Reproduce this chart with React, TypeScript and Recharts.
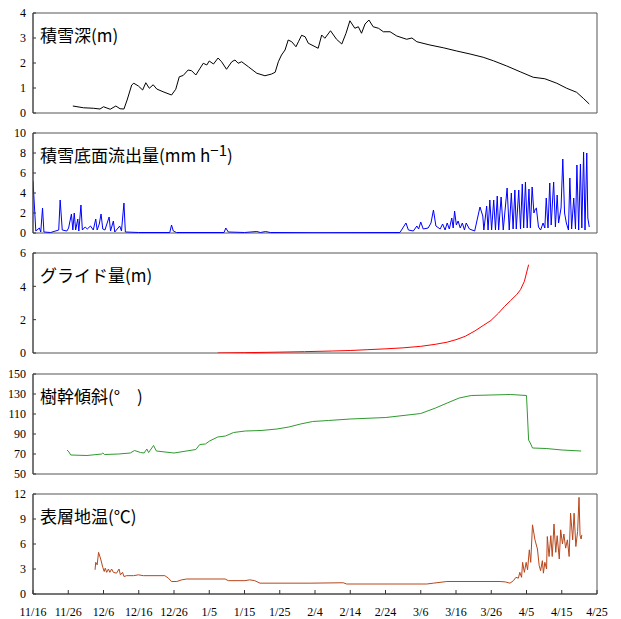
import React from 'react';
import { LineChart, Line, XAxis, YAxis, ReferenceArea } from 'recharts';

const dateLabels = ['11/16','11/26','12/6','12/16','12/26','1/5','1/15','1/25','2/4','2/14','2/24','3/6','3/16','3/26','4/5','4/15','4/25'];
const tickDays = dateLabels.map((_, i) => i * 10);

const snowDepth: [number, number][] = [
  [11.3,0.28],[14.3,0.21],[17.1,0.19],[19.0,0.16],[20.0,0.25],[21.9,0.15],[23.5,0.28],[24.7,0.17],[25.8,0.16],[26.7,0.52],[28.0,1.12],[28.6,1.19],[29.9,1.08],[31.1,0.92],[32.0,1.21],[33.0,0.99],[34.1,1.13],[35.1,0.96],[36.9,0.85],[39.3,0.72],[40.5,0.95],[41.5,1.45],[42.6,1.5],[44.0,1.72],[45.0,1.69],[46.2,1.52],[47.4,1.79],[48.3,1.99],[49.3,1.92],[50.0,2.08],[51.2,1.96],[52.5,2.2],[53.5,2.05],[54.9,1.75],[56.4,2.05],[57.3,2.12],[58.2,1.99],[59.2,2.05],[61.1,1.85],[63.5,1.59],[65.8,1.49],[67.7,1.56],[68.7,1.63],[69.6,2.05],[70.5,2.32],[71.5,2.52],[72.4,2.92],[73.4,2.85],[74.6,2.65],[75.3,2.85],[76.2,3.11],[77.2,3.05],[78.1,2.79],[80.9,2.59],[81.9,3.12],[82.8,2.99],[84.4,3.29],[86.1,2.95],[87.6,2.76],[88.8,3.19],[89.9,3.69],[91.3,3.39],[92.3,3.45],[93.2,3.19],[94.2,3.56],[95.3,3.72],[96.5,3.45],[98.0,3.39],[99.4,3.25],[101.3,3.25],[103.2,3.08],[106.0,2.95],[107.5,3.0],[108.9,2.85],[112.6,2.72],[116.4,2.61],[120.2,2.48],[124.0,2.36],[127.7,2.23],[130.6,2.09],[134.4,1.88],[138.2,1.65],[141.9,1.43],[145.2,1.37],[148.6,1.19],[151.4,0.99],[154.2,0.83],[156.1,0.59],[157.8,0.36]
];

const baseFlow: [number, number][] = [
  [0,5.2],[0.8,0.2],[1.8,0.5],[2.2,0.1],[2.7,2.5],[3.1,0.1],[5,0.05],[7.3,0.3],[7.7,3.3],[8.3,0.3],[9.6,0.2],[10.1,0.5],[10.9,1.9],[11.3,0.3],[11.7,2.0],[12.1,0.3],[12.7,1.4],[13.0,0.2],[13.6,2.8],[14.0,0.3],[14.8,0.6],[15.4,0.4],[16.3,0.7],[17.1,0.3],[17.8,1.4],[18.2,0.3],[18.8,0.9],[19.3,1.9],[19.8,0.4],[20.4,0.3],[21.6,1.6],[22.0,0.2],[22.8,1.2],[23.2,0.1],[24.6,0.7],[25.1,0.2],[25.8,3.0],[26.2,0.1],[30,0.05],[38.8,0.05],[39.3,0.8],[39.8,0.2],[40.7,0.05],[54.2,0.05],[54.7,0.5],[55.4,0.1],[60,0.05],[63.5,0.15],[64.5,0.05],[66,0.15],[67.3,0.05],[80,0.03],[104.1,0.05],[105.8,1.0],[106.5,0.3],[107.9,0.2],[108.9,0.7],[109.4,0.4],[110.0,1.1],[110.7,0.4],[112.1,0.5],[112.9,1.0],[113.6,2.3],[114.3,0.7],[115.5,0.4],[116.2,0.9],[116.9,0.3],[117.5,1.0],[118.1,0.4],[118.8,1.5],[119.2,0.5],[119.6,2.2],[120.1,0.8],[120.6,1.2],[121.2,0.5],[121.8,1.0],[122.4,0.3],[122.9,1.0],[123.8,0.4],[125.3,0.2],[126.8,2.6],[127.6,1.7],[127.9,0.3],[128.7,2.7],[129.1,0.3],[129.6,3.3],[130.1,0.3],[130.7,3.3],[131.2,0.3],[131.7,3.7],[132.1,0.3],[132.8,3.6],[133.4,0.3],[134.5,4.5],[135.1,0.3],[135.7,4.0],[136.2,0.4],[136.7,4.3],[137.1,0.4],[137.8,4.3],[138.3,0.4],[138.8,4.9],[139.2,0.5],[139.7,5.1],[140.2,0.5],[140.7,4.4],[141.1,0.5],[141.6,4.6],[142.1,2.0],[142.5,2.4],[142.8,2.5],[143.4,0.6],[144.0,0.3],[144.7,1.0],[145.2,0.5],[145.6,3.5],[146.1,0.5],[146.6,5.0],[147.0,0.8],[147.7,5.1],[148.2,0.6],[148.7,3.8],[149.1,1.0],[149.8,2.5],[150.3,7.4],[150.8,2.0],[151.3,1.0],[151.9,0.3],[152.3,5.5],[152.8,0.4],[153.4,3.5],[153.9,0.4],[154.3,6.8],[154.8,0.3],[155.3,6.9],[155.7,0.5],[156.2,8.1],[156.6,0.3],[157.1,8.0],[157.4,1.5],[157.8,0.6]
];

const glide: [number, number][] = [
  [52.4,0],[60,0.02],[69.2,0.05],[77,0.08],[84.9,0.12],[90,0.15],[95,0.2],[100.1,0.25],[105,0.31],[110.0,0.4],[114.1,0.52],[117.5,0.65],[120,0.8],[122.6,1.0],[125.4,1.33],[127.7,1.65],[129.9,1.95],[132.1,2.4],[133.8,2.8],[135.5,3.15],[137.2,3.5],[138.3,3.8],[139.4,4.3],[140.6,5.3]
];

const trunkTilt: [number, number][] = [
  [9.65,74],[10.2,72],[10.7,69],[15.3,68.5],[19.5,70],[19.8,71],[20.3,69.5],[24.3,70],[27.6,71],[28.8,73.5],[30.5,71.5],[31.5,71],[32.3,75],[32.8,71.5],[34.2,78.5],[35.0,73],[40.0,71],[46.2,74.5],[47.3,79.5],[48.9,80],[50.1,83],[52.4,87],[54.6,88],[56.9,91.5],[60.2,93],[64.7,93.5],[69.2,95],[72.6,97],[75.9,100],[79.3,102.5],[83.8,103.5],[90,105],[100.1,106.5],[110,110.5],[114.2,116],[117.5,121],[120.9,126],[124.3,128.5],[129.9,129],[135.5,129.5],[140,128.5],[140.6,84],[141.2,80],[141.7,76],[145.6,75.5],[150.1,74],[155.5,73]
];

const soilTemp: [number, number][] = [
  [17.6,2.9],[17.8,3.8],[18.2,3.5],[18.6,5.0],[19.2,4.2],[19.8,3.2],[20.2,2.7],[20.5,3.1],[20.9,2.6],[21.4,3.0],[21.8,2.6],[22.3,3.0],[22.8,2.6],[23.7,2.5],[24.4,3.0],[24.8,2.3],[25.4,2.6],[25.8,2.1],[26.6,2.2],[28.5,2.2],[29.9,2.3],[31.3,2.2],[37.4,2.2],[38.4,1.9],[39.3,1.5],[40.8,1.5],[42.2,1.7],[43.6,1.8],[54.5,1.8],[55.4,1.6],[60.1,1.6],[61.5,1.7],[62.9,1.6],[64.4,1.3],[78.6,1.3],[88,1.35],[89,1.2],[111.7,1.2],[113.6,1.3],[117.4,1.5],[132.5,1.5],[134,1.45],[135.3,1.3],[136.3,1.6],[137.0,2.0],[137.7,1.9],[138.1,2.6],[138.6,2.0],[138.9,3.8],[139.4,2.6],[139.9,3.8],[140.3,2.9],[140.8,5.3],[141.2,3.8],[141.7,8.3],[142.4,6.5],[143.1,5.4],[143.6,3.4],[144.0,2.8],[144.5,4.0],[144.8,2.5],[145.2,3.8],[145.7,3.0],[145.9,6.9],[146.4,4.5],[146.9,7.0],[147.3,4.5],[147.8,8.4],[148.3,5.0],[148.7,7.0],[149.3,4.2],[149.7,7.7],[150.2,6.0],[150.6,7.2],[151.1,5.5],[151.6,6.5],[152.1,4.5],[152.5,9.7],[153.1,6.5],[153.5,9.7],[154.0,5.7],[154.5,7.5],[154.9,11.6],[155.2,7.0],[155.5,6.6],[155.7,7.1]
];

const snowTicks = [0, 1, 2, 3, 4];
const flowTicks = [0, 2, 4, 6, 8, 10];
const glideTicks = [0, 2, 4, 6];
const tiltTicks = [50, 70, 90, 110, 130, 150];
const tempTicks = [0, 3, 6, 9, 12];

const toRows = (arr: [number, number][]) => arr.map(([d, v]) => ({ d, v }));

const serif = '"Liberation Serif", "DejaVu Serif", serif';
const cjk = '"Noto Sans CJK JP", "Noto Sans", sans-serif';

type PanelProps = {
  top: number;
  data: [number, number][];
  ticks: number[];
  color: string;
  last?: boolean;
  title: React.ReactNode;
};

function Panel({ top, data, ticks, color, last, title }: PanelProps) {
  const plotH = 100;
  const mTop = 10;
  const xH = last ? 24 : 0;
  const mBottom = last ? 0 : 10;
  const h = mTop + plotH + xH + mBottom;
  const ymin = ticks[0];
  const ymax = ticks[ticks.length - 1];
  return (
    <div style={{ position: 'absolute', left: 0, top: top - mTop, width: 621, height: h }}>
      <LineChart width={621} height={h} data={toRows(data)} margin={{ top: mTop, right: 24, bottom: mBottom, left: 8 }}>
        <ReferenceArea x1={0} x2={160} y1={ymin} y2={ymax} fill="none" fillOpacity={0} stroke="#555" strokeWidth={1} ifOverflow="visible" />
        <XAxis
          type="number"
          dataKey="d"
          domain={[0, 160]}
          ticks={tickDays}
          interval={0}
          height={xH}
          tickSize={-4}
          tickMargin={17}
          axisLine={{ stroke: '#444' }}
          tickLine={{ stroke: '#333' }}
          tick={last ? { fill: '#000', fontSize: 12, fontFamily: serif } : false}
          tickFormatter={(v: number) => dateLabels[Math.round(v / 10)]}
          allowDataOverflow
        />
        <YAxis
          type="number"
          domain={[ymin, ymax]}
          ticks={ticks}
          interval={0}
          width={25}
          tickSize={-3}
          tickMargin={10}
          axisLine={{ stroke: '#444' }}
          tickLine={{ stroke: '#333' }}
          tick={{ fill: '#000', fontSize: 12, fontFamily: serif }}
          allowDataOverflow
        />
        <Line type="linear" dataKey="v" stroke={color} strokeWidth={1} dot={false} isAnimationActive={false} />
      </LineChart>
      <div style={{ position: 'absolute', left: 40, top: mTop + 13, fontFamily: cjk, fontSize: 17, lineHeight: '18px', color: '#000', whiteSpace: 'pre' }}>
        {title}
      </div>
    </div>
  );
}

export default function App() {
  return (
    <div style={{ position: 'absolute', left: 0, top: 0, width: 621, height: 619, background: '#fff', overflow: 'hidden' }}>
      <Panel top={13} data={snowDepth} ticks={snowTicks} color="#000000" title="積雪深(m)" />
      <Panel top={133} data={baseFlow} ticks={flowTicks} color="#0000ff" title={<span>積雪底面流出量(mm h<sup style={{ fontSize: 15, verticalAlign: '6px', lineHeight: 0 }}>−1</sup>)</span>} />
      <Panel top={253} data={glide} ticks={glideTicks} color="#ff0000" title="グライド量(m)" />
      <Panel top={374} data={trunkTilt} ticks={tiltTicks} color="#2e9a2e" title={'樹幹傾斜(°\u3000)'} />
      <Panel top={494} data={soilTemp} ticks={tempTicks} color="#b8461b" last title="表層地温(℃)" />
    </div>
  );
}
